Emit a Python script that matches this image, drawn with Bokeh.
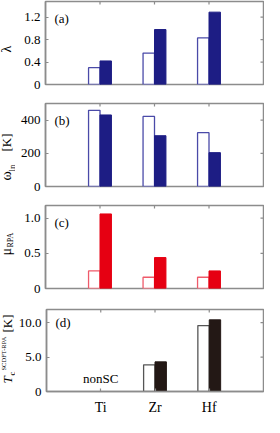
import math
from bokeh.plotting import figure
from bokeh.models import Label, LinearAxis, Range1d, FixedTicker
from bokeh.layouts import column, row
from bokeh.embed import file_html
from bokeh.resources import INLINE

# ---------------- data ----------------
elements = ["Ti", "Zr", "Hf"]
positions = [1, 2, 3]

lam_open = [0.30, 0.56, 0.83]
lam_fill = [0.42, 0.98, 1.29]

omega_open = [459, 422, 324]
omega_fill = [431, 306, 204]

mu_open = [0.25, 0.16, 0.16]
mu_fill = [1.06, 0.44, 0.25]

tc_elements = ["Zr", "Hf"]          # Ti: nonSC
tc_open = [3.87, 9.56]
tc_fill = [4.30, 10.40]

a_ticks = [0, 0.4, 0.8, 1.2]
a_labels = ["0", "0.4", "0.8", "1.2"]
b_ticks = [0, 200, 400]
b_labels = ["0", "200", "400"]
c_ticks = [0, 0.5, 1.0]
c_labels = ["0", "0.5", "1.0"]
d_ticks = [0, 5, 10]
d_labels = ["0", "5.0", "10.0"]

# ---------------- style ----------------
SERIF = "Liberation Serif"
FRAME = "#8c8c8c"
BLUE_FILL, BLUE_LINE = "#1d1d84", "#4a4aa8"
RED_FILL, RED_LINE = "#e60012", "#ef5a6a"
BLK_FILL, BLK_LINE = "#231815", "#555555"
LW = 15          # width of the strip carrying the y titles
W = 264 - LW     # width of each chart
BAR_W = 0.21


def make_panel(height, top, bottom, ymax, ticks, labels, show_x=False):
    p = figure(width=W, height=height, output_backend="svg", toolbar_location=None,
               x_range=Range1d(0, 4), y_range=Range1d(0, ymax),
               min_border_left=30, min_border_right=1,
               min_border_top=top, min_border_bottom=bottom,
               x_axis_location=None, y_axis_location=None)
    p.outline_line_color = FRAME
    p.outline_line_width = 1.5
    p.xgrid.grid_line_color = None
    p.ygrid.grid_line_color = None

    la = LinearAxis(ticker=FixedTicker(ticks=ticks))
    la.axis_line_color = FRAME
    la.axis_line_width = 1.5
    la.major_tick_line_color = FRAME
    la.major_tick_line_width = 1.2
    la.major_tick_in = 3
    la.major_tick_out = 0
    la.minor_tick_line_color = None
    la.major_label_text_font = SERIF
    la.major_label_text_font_size = "13px"
    la.major_label_text_color = "black"
    la.major_label_standoff = 5
    la.major_label_overrides = {t: l for t, l in zip(ticks, labels)}
    p.add_layout(la, "left")

    if show_x:
        ba = LinearAxis(ticker=FixedTicker(ticks=positions))
        ba.axis_line_color = FRAME
        ba.axis_line_width = 1.5
        ba.major_tick_line_color = FRAME
        ba.major_tick_line_width = 1.2
        ba.major_tick_in = 3
        ba.major_tick_out = 0
        ba.minor_tick_line_color = None
        ba.major_label_text_font = SERIF
        ba.major_label_text_font_size = "14px"
        ba.major_label_text_color = "black"
        ba.major_label_standoff = 8
        ba.major_label_overrides = {pos: e for pos, e in zip(positions, elements)}
        p.add_layout(ba, "below")
    else:
        p.scatter(x=positions, y=[0] * len(positions), marker="dash", angle=math.pi / 2,
                  size=6, line_color=FRAME, line_width=1.2)
    p.scatter(x=positions, y=[ymax] * len(positions), marker="dash", angle=math.pi / 2,
              size=6, line_color=FRAME, line_width=1.2)
    p.scatter(x=[4] * len(ticks), y=ticks, marker="dash", size=6,
              line_color=FRAME, line_width=1.2)
    return p


def title_strip(height, top, bottom):
    s = figure(width=LW, height=height, output_backend="svg", toolbar_location=None,
               x_range=Range1d(0, 1), y_range=Range1d(0, 1),
               min_border_left=0, min_border_right=0,
               min_border_top=top, min_border_bottom=bottom,
               x_axis_location=None, y_axis_location=None)
    s.outline_line_color = None
    s.xgrid.grid_line_color = None
    s.ygrid.grid_line_color = None
    return s


def add_bars(p, xs, opens, fills, fill_c, line_c):
    xo = [x - BAR_W / 2 for x in xs]
    xf = [x + BAR_W / 2 for x in xs]
    p.vbar(x=xo, top=opens, bottom=0, width=BAR_W, fill_color="white",
           line_color=line_c, line_width=1.3)
    p.vbar(x=xf, top=fills, bottom=0, width=BAR_W, fill_color=fill_c,
           line_color=fill_c, line_width=1.0)


def panel_tag(p, txt, fh):
    p.add_layout(Label(x=9, y=fh - 9, x_units="screen", y_units="screen", text=txt,
                       text_font=SERIF, text_font_size="13px", text_baseline="top",
                       text_align="left", text_color="black"))


def vlabel(s, txt, x, y, size="13px", style="normal"):
    s.add_layout(Label(x=x, y=y, x_units="screen", y_units="screen", text=txt,
                       angle=math.pi / 2, text_font=SERIF, text_font_size=size,
                       text_font_style=style, text_align="left",
                       text_baseline="middle", text_color="black"))


FH = 83
FHD = 86

# panel a
ha = (1, 9)
pa = make_panel(ha[0] + FH + ha[1], ha[0], ha[1], 1.48, a_ticks, a_labels)
add_bars(pa, positions, lam_open, lam_fill, BLUE_FILL, BLUE_LINE)
panel_tag(pa, "(a)", FH)
sa = title_strip(ha[0] + FH + ha[1], ha[0], ha[1])
vlabel(sa, "λ", 6, 32, "14px")

# panel b
hb = (10, 9)
pb = make_panel(hb[0] + FH + hb[1], hb[0], hb[1], 500, b_ticks, b_labels)
add_bars(pb, positions, omega_open, omega_fill, BLUE_FILL, BLUE_LINE)
panel_tag(pb, "(b)", FH)
sb = title_strip(hb[0] + FH + hb[1], hb[0], hb[1])
vlabel(sb, "ω", 6, 6, "14px")
vlabel(sb, "ln", 11, 15, "9px")
vlabel(sb, "[K]", 6, 35, "13px")

# panel c
hc = (10, 10)
pc = make_panel(hc[0] + FH + hc[1], hc[0], hc[1], 1.18, c_ticks, c_labels)
add_bars(pc, positions, mu_open, mu_fill, RED_FILL, RED_LINE)
panel_tag(pc, "(c)", FH)
sc = title_strip(hc[0] + FH + hc[1], hc[0], hc[1])
vlabel(sc, "μ", 6, 33, "14px")
vlabel(sc, "RPA", 10, 41, "8px")

# panel d
hd = (11, 22)
pd_ = make_panel(hd[0] + FHD + hd[1], hd[0], hd[1], 11.9, d_ticks, d_labels, show_x=True)
tc_pos = [positions[elements.index(e)] for e in tc_elements]
add_bars(pd_, tc_pos, tc_open, tc_fill, BLK_FILL, BLK_LINE)
panel_tag(pd_, "(d)", FHD)
pd_.add_layout(Label(x=positions[elements.index("Ti")], y=13, x_units="data", y_units="screen",
                     text="nonSC", text_font=SERIF, text_font_size="13px",
                     text_align="center", text_baseline="alphabetic", text_color="black"))
sd = title_strip(hd[0] + FHD + hd[1], hd[0], hd[1])
vlabel(sd, "T", 7, 8, "13px", "italic")
vlabel(sd, "c", 11, 16, "9px")
vlabel(sd, "SCDFT-RPA", 3, 21, "6.5px")
vlabel(sd, "[K]", 7, 59, "13px")

layout = column(row(sa, pa, spacing=0), row(sb, pb, spacing=0),
                row(sc, pc, spacing=0), row(sd, pd_, spacing=0), spacing=0)
open("out.html", "w").write(file_html(layout, INLINE))
